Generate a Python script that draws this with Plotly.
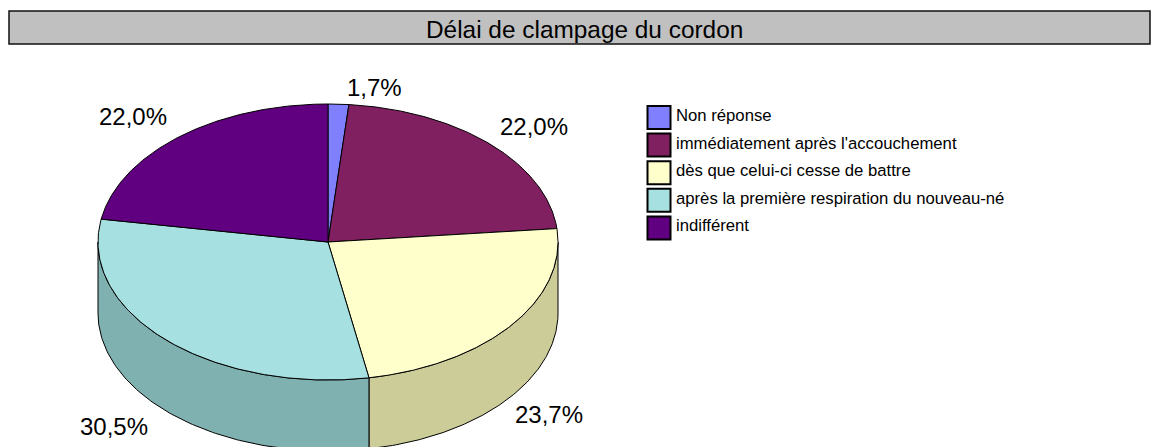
import numpy as np
import plotly.graph_objects as go

# --- data ---
TITLE = "Délai de clampage du cordon"
categories = ["Non réponse", "immédiatement après l'accouchement", "dès que celui-ci cesse de battre",
              "après la première respiration du nouveau-né", "indifférent"]
values = [1.7, 22.0, 23.7, 30.5, 22.0]
value_labels = ["1,7%", "22,0%", "23,7%", "30,5%", "22,0%"]

# --- style / layout ---
top_colors = ["#8080FF", "#802060", "#FFFFCC", "#A6E0E0", "#600080"]
side_colors = ["#6666CC", "#661A4D", "#CCCC99", "#80B1B1", "#4D0066"]
W, H = 1160, 447
CX, CY, RX, RY, DEPTH = 328, 242, 230, 138, 71
VIEW_SHIFT = -0.9  # small perspective correction of the slice boundaries, in degrees
label_offsets = [(36, -17), (43.5, -18), (38, 89), (-52, 86), (-46.5, -20)]
FONT = "Liberation Sans, Arial, sans-serif"


def rim(theta, dy=0):
    """theta in degrees, clockwise from the top of the pie."""
    t = np.radians(theta)
    return CX + RX * np.sin(t), CY + dy - RY * np.cos(t)


edges = np.concatenate([[0], np.cumsum(values)]) / 100 * 360
edges[1:-1] += VIEW_SHIFT
edges[-1] = 360
fig = go.Figure()

# outer walls (only the front half, theta 90..270, is visible)
for i in range(len(values)):
    a, b = max(edges[i], 90), min(edges[i + 1], 270)
    if b <= a:
        continue
    th = np.linspace(a, b, 120)
    x1, y1 = rim(th)
    x2, y2 = rim(th[::-1], DEPTH)
    fig.add_trace(go.Scatter(x=np.r_[x1, x2, x1[0]], y=np.r_[y1, y2, y1[0]], mode="lines", fill="toself",
                             fillcolor=side_colors[i], line=dict(color="black", width=1),
                             hoverinfo="skip", showlegend=False))

# top face
for i in range(len(values)):
    th = np.linspace(edges[i], edges[i + 1], 160)
    x1, y1 = rim(th)
    fig.add_trace(go.Scatter(x=np.r_[CX, x1, CX], y=np.r_[CY, y1, CY], mode="lines", fill="toself",
                             fillcolor=top_colors[i], line=dict(color="black", width=1),
                             name=categories[i], showlegend=False))

# value labels
for i, lab in enumerate(value_labels):
    mx, my = rim((edges[i] + edges[i + 1]) / 2)
    dx, dy = label_offsets[i]
    fig.add_annotation(x=mx + dx, y=my + dy, text=lab, showarrow=False, xanchor="center", yanchor="middle",
                       font=dict(family=FONT, size=24, color="black"))

# legend
LEG_X, LEG_Y, LEG_STEP = 659, 117.5, 27.6
n = len(categories)
fig.add_trace(go.Scatter(x=[LEG_X] * n, y=[LEG_Y + LEG_STEP * i for i in range(n)], mode="markers",
                         marker=dict(symbol="square", size=23, color=top_colors, line=dict(color="black", width=2)),
                         hoverinfo="skip", showlegend=False))
for i, c in enumerate(categories):
    fig.add_annotation(x=LEG_X + 15, y=LEG_Y - 2 + LEG_STEP * i, text=c, showarrow=False, xanchor="left",
                       yanchor="middle", font=dict(family=FONT, size=16.7, color="black"))

# title band
fig.add_shape(type="rect", x0=9, x1=1150, y0=11, y1=44, fillcolor="#C0C0C0", line=dict(color="#111111", width=1.5),
              layer="below")
fig.add_annotation(x=584, y=29, text=TITLE, showarrow=False, font=dict(family=FONT, size=24.4, color="black"))

fig.update_layout(width=W, height=H, margin=dict(l=0, r=0, t=0, b=0), paper_bgcolor="white", plot_bgcolor="white",
                  xaxis=dict(range=[0, W], visible=False, fixedrange=True),
                  yaxis=dict(range=[H, 0], visible=False, fixedrange=True))
fig.write_html("out.html", config={"displayModeBar": False},
               post_script="document.body.style.margin='0';document.body.style.overflow='hidden';")
